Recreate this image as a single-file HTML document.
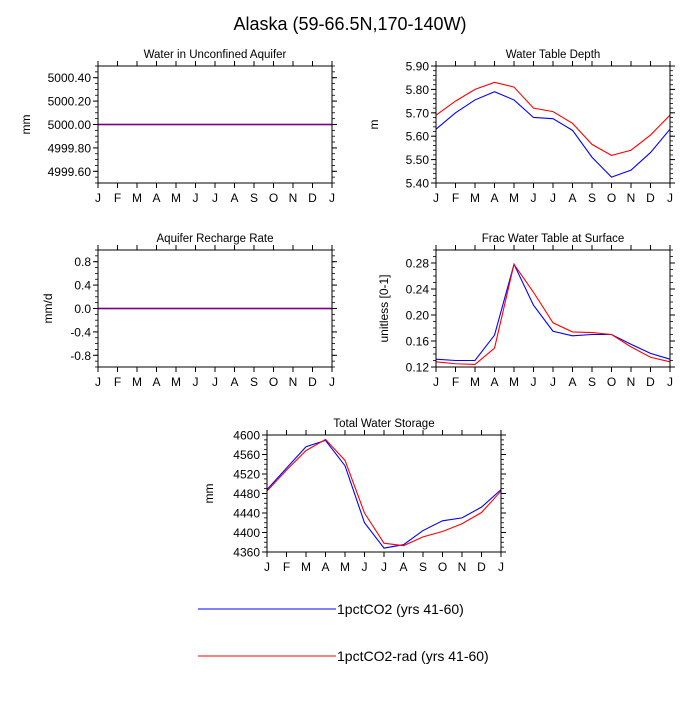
<!DOCTYPE html>
<html><head><meta charset="utf-8"><style>
body{margin:0;background:#fff;width:700px;height:700px;overflow:hidden;font-family:"Liberation Sans",sans-serif}
</style></head><body>
<svg id="c" width="700" height="700" xmlns="http://www.w3.org/2000/svg" font-family="Liberation Sans, sans-serif">
<text x="350" y="30" font-size="18" text-anchor="middle">Alaska (59-66.5N,170-140W)</text>
<g>
<line x1="198" y1="609" x2="336" y2="609" stroke="#0000ff" stroke-width="1"/>
<text x="337" y="614" font-size="14">1pctCO2 (yrs 41-60)</text>
<line x1="198" y1="656" x2="336" y2="656" stroke="#ff0000" stroke-width="1"/>
<text x="337" y="661" font-size="14">1pctCO2-rad (yrs 41-60)</text>
</g>
</svg>
<script>
const months=["J","F","M","A","M","J","J","A","S","O","N","D","J"];
const wuaBlue=[5000,5000,5000,5000,5000,5000,5000,5000,5000,5000,5000,5000,5000];
const wuaRed=[5000,5000,5000,5000,5000,5000,5000,5000,5000,5000,5000,5000,5000];
const wuaTicks=["4999.60","4999.80","5000.00","5000.20","5000.40"];
const wtdBlue=[5.63,5.70,5.755,5.79,5.755,5.68,5.675,5.625,5.51,5.425,5.455,5.53,5.63];
const wtdRed=[5.69,5.75,5.80,5.83,5.81,5.72,5.705,5.655,5.565,5.518,5.54,5.605,5.69];
const wtdTicks=["5.40","5.50","5.60","5.70","5.80","5.90"];
const rchBlue=[0,0,0,0,0,0,0,0,0,0,0,0,0];
const rchRed=[0,0,0,0,0,0,0,0,0,0,0,0,0];
const rchTicks=["-0.8","-0.4","0.0","0.4","0.8"];
const fracBlue=[0.132,0.130,0.130,0.169,0.278,0.215,0.175,0.168,0.170,0.170,0.155,0.141,0.132];
const fracRed=[0.128,0.125,0.124,0.149,0.278,0.235,0.188,0.174,0.173,0.170,0.151,0.135,0.128];
const fracTicks=["0.12","0.16","0.20","0.24","0.28"];
const twsBlue=[4488,4532,4576,4589,4537,4420,4368,4375,4404,4424,4430,4452,4488];
const twsRed=[4485,4528,4568,4591,4548,4440,4378,4373,4391,4402,4418,4441,4485];
const twsTicks=["4360","4400","4440","4480","4520","4560","4600"];

const svg=document.getElementById('c');
const NS='http://www.w3.org/2000/svg';
function mk(tag,attrs,parent){const e=document.createElementNS(NS,tag);for(const k in attrs)e.setAttribute(k,attrs[k]);(parent||svg).appendChild(e);return e;}

function panel(id,title,ylab,ylOff,x0,x1,y0,y1,ymin,ymax,ticks,minor,blue,red){
  const g=mk('g',{});
  
  
  const X=i=>x0+(x1-x0)*i/12;
  const Y=v=>y1-(v-ymin)/(ymax-ymin)*(y1-y0);
  const t=mk('text',{x:(x0+x1)/2,y:y0-8,'font-size':11.5,'text-anchor':'middle'},g);
  t.textContent=title;
  
  
  const yl=mk('text',{x:0,y:0,'font-size':12,'text-anchor':'middle',transform:`translate(${x0-ylOff},${(y0+y1)/2}) rotate(-90)`},g);
  yl.textContent=ylab;
  
  
  for(let v=ymin;v<=ymax+1e-9;v+=minor){const y=Y(v);
    mk('line',{x1:x0-3,x2:x0,y1:y,y2:y,stroke:'#000','stroke-width':0.8},g);
    mk('line',{x1:x1,x2:x1+3,y1:y,y2:y,stroke:'#000','stroke-width':0.8},g);}
  ticks.forEach(s=>{const y=Y(parseFloat(s));
    mk('line',{x1:x0-5,x2:x0,y1:y,y2:y,stroke:'#000','stroke-width':1},g);
    mk('line',{x1:x1,x2:x1+5,y1:y,y2:y,stroke:'#000','stroke-width':1},g);
    const tt=mk('text',{x:x0-7,y:y+4.5,'font-size':12,'text-anchor':'end'},g);
    tt.textContent=s;
    
    
  });
  months.forEach((m,i)=>{const x=X(i);
    mk('line',{x1:x,x2:x,y1:y1,y2:y1+5,stroke:'#000','stroke-width':1},g);
    mk('line',{x1:x,x2:x,y1:y0-5,y2:y0,stroke:'#000','stroke-width':1},g);
    const tt=mk('text',{x:x,y:y1+19,'font-size':12,'text-anchor':'middle'},g);
    tt.textContent=m;
    
    
  });
  const same=blue.every((v,i)=>v===red[i]);
  const series=same?[[red,'#ff0000','red',1],[blue,'#0000ff','blue',0.55]]:[[blue,'#0000ff','blue',1],[red,'#ff0000','red',1]];
  series.forEach(([d,c,n,op])=>{
    const p=mk('polyline',{points:d.map((v,i)=>X(i)+','+Y(v)).join(' '),fill:'none',stroke:c,'stroke-width':same?1.6:1.1,'stroke-opacity':op},g);
    
    
  });
  const r=mk('rect',{x:x0,y:y0,width:x1-x0,height:y1-y0,fill:'none',stroke:'#000','stroke-width':1},g);
  
  
}
panel('water-unconfined-aquifer','Water in Unconfined Aquifer','mm',68,98,332,66,183,4999.5,5000.5,wuaTicks,0.05,wuaBlue,wuaRed);
panel('water-table-depth','Water Table Depth','m',58,436,670,66,183,5.4,5.9,wtdTicks,0.02,wtdBlue,wtdRed);
panel('aquifer-recharge-rate','Aquifer Recharge Rate','mm/d',46,98,332,250,367,-1,1,rchTicks,0.1,rchBlue,rchRed);
panel('frac-water-table','Frac Water Table at Surface','unitless [0-1]',48,436,670,250,367,0.12,0.30,fracTicks,0.01,fracBlue,fracRed);
panel('total-water-storage','Total Water Storage','mm',54,267,501,435,552,4360,4600,twsTicks,10,twsBlue,twsRed);
</script>
</body></html>
